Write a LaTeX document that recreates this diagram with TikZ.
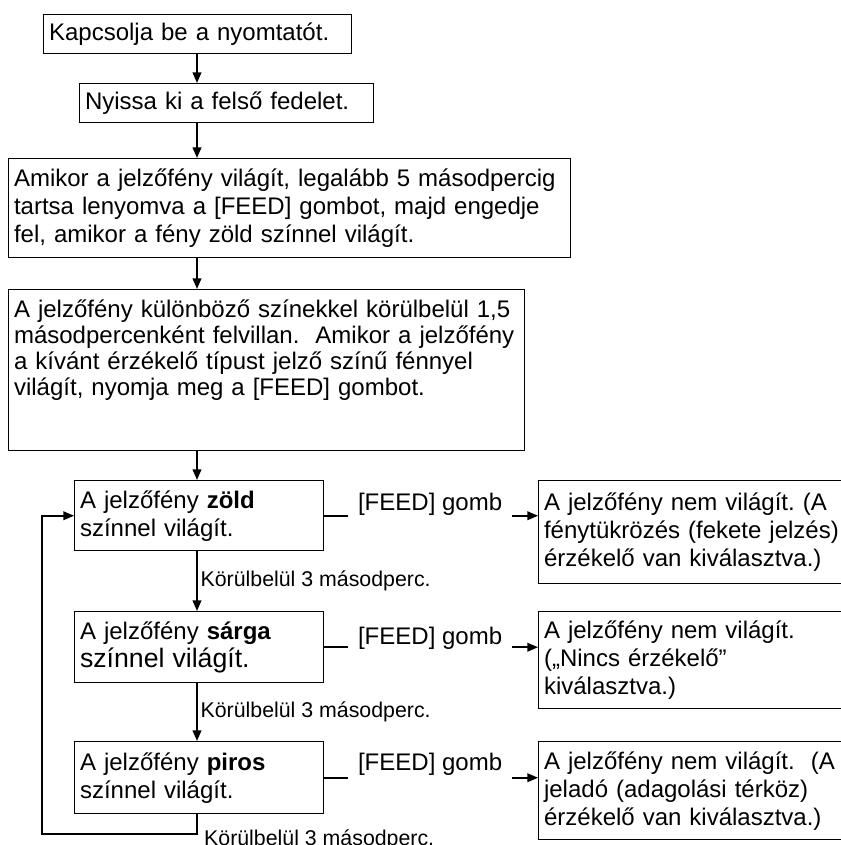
\documentclass[tikz,border=0pt]{standalone}
\usepackage{fontspec}
\setmainfont{Liberation Sans}
\usetikzlibrary{arrows.meta,positioning}
\frenchspacing

\tikzset{
  doboz/.style={draw, line width=1.1pt, anchor=north west, align=left,
    inner xsep=4pt, inner ysep=0pt, font=\fontsize{18}{21}\selectfont},
  felirat/.style={inner xsep=7pt, inner ysep=0pt, font=\fontsize{18}{21}\selectfont},
  ido/.style={inner sep=2pt, font=\fontsize{16}{19}\selectfont},
  nyil/.style={-{Triangle[length=8pt,width=6.5pt]}, line width=1.4pt},
  vonal/.style={line width=1.2pt},
}

\begin{document}
\begin{tikzpicture}[x=0.75pt, y=-0.75pt]
    \useasboundingbox (0,0) rectangle (841,845);
    % felso lepesek
    \node[doboz, minimum width=231pt, minimum height=29.25pt, text width=223pt] (kapcs) at (43,14)
        {Kapcsolja be a nyomtatót.};
    \node[doboz, minimum width=220.5pt, minimum height=29.25pt, text width=212.5pt] (fedel) at (79,83)
        {Nyissa ki a felső fedelet.};
    \node[doboz, minimum width=421.5pt, minimum height=74.25pt, text width=413.5pt] (tart) at (8,158)
        {Amikor a jelzőfény világít, legalább 5 másodpercig\\
         tartsa lenyomva a [FEED] gombot, majd engedje\\
         fel, amikor a fény zöld színnel világít.};
    \node[doboz, font=\fontsize{18}{19.5}\selectfont, minimum width=387pt, minimum height=120.75pt, text width=379pt] (villan) at (8,289)
        {A jelzőfény különböző színekkel körülbelül 1,5\\
         másodpercenként felvillan.\ \ Amikor a jelzőfény\\
         a kívánt érzékelő típust jelző színű fénnyel\\
         világít, nyomja meg a [FEED] gombot.\\[14pt]\mbox{}};

    % szinek
    \node[doboz, minimum width=186.75pt, minimum height=52.5pt, text width=178.75pt] (zold) at (74,480)
        {A jelzőfény \textbf{zöld}\\ színnel világít.};
    \node[doboz, minimum width=186.75pt, minimum height=53.25pt, text width=178.75pt] (sarga) at (74,611)
        {A jelzőfény \textbf{sárga}\\ {\fontsize{20}{21}\selectfont színnel világít.}};
    \node[doboz, minimum width=186.75pt, minimum height=54pt, text width=178.75pt] (piros) at (74,741)
        {A jelzőfény \textbf{piros}\\ színnel világít.};

    % eredmenyek
    \node[doboz, minimum width=234pt, minimum height=77.25pt, text width=226pt] (nemA) at (538,480)
        {A jelzőfény nem világít. (A\\ fénytükrözés (fekete jelzés)\\ érzékelő van kiválasztva.)};
    \node[doboz, minimum width=234pt, minimum height=72.75pt, text width=226pt] (nemB) at (538,611)
        {A jelzőfény nem világít.\\ („Nincs érzékelő”\\ kiválasztva.)};
    \node[doboz, minimum width=234pt, minimum height=73.5pt, text width=226pt] (nemC) at (538,741)
        {A jelzőfény nem világít.\ \ (A\\ jeladó (adagolási térköz)\\ érzékelő van kiválasztva.)};

    \coordinate (gerinc) at (197,0);
    \coordinate (sarok) at (42,834);

    \draw[nyil] (kapcs.south -| gerinc) -- (fedel.north -| gerinc);
    \draw[nyil] (fedel.south -| gerinc) -- (tart.north -| gerinc);
    \draw[nyil] (tart.south -| gerinc) -- (villan.north -| gerinc);
    \draw[nyil] (villan.south -| gerinc) -- (zold.north -| gerinc);
    \draw[nyil] (zold.south -| gerinc) -- node[ido, right] (ido1) {Körülbelül 3 másodperc.} (sarga.north -| gerinc);
    \draw[nyil] (sarga.south -| gerinc) -- node[ido, right] (ido2) {Körülbelül 3 másodperc.} (piros.north -| gerinc);
    \draw[nyil, line width=1.2pt] (piros.south -| gerinc) |- (sarok) |- (zold.west);
    \node[ido, below right=9pt and 1.5pt of piros.south] (ido3) {Körülbelül 3 másodperc.};

    % [FEED] gomb
    \node[felirat, anchor=base west] (gombA) at ([shift={(24,-5)}]zold.east) {[FEED] gomb};
    \node[felirat, anchor=base west] (gombB) at ([shift={(24,-3)}]sarga.east) {[FEED] gomb};
    \node[felirat, anchor=base west] (gombC) at ([shift={(24,-7)}]piros.east) {[FEED] gomb};
    \draw[vonal] (zold.east) -- (zold.east -| gombA.west);
    \draw[nyil, line width=1.2pt] (zold.east -| gombA.east) -- (zold.east -| nemA.west);
    \draw[vonal] (sarga.east) -- (sarga.east -| gombB.west);
    \draw[nyil, line width=1.2pt] (sarga.east -| gombB.east) -- (sarga.east -| nemB.west);
    \draw[vonal] (piros.east) -- (piros.east -| gombC.west);
    \draw[nyil, line width=1.2pt] (piros.east -| gombC.east) -- (piros.east -| nemC.west);
\end{tikzpicture}
\end{document}
